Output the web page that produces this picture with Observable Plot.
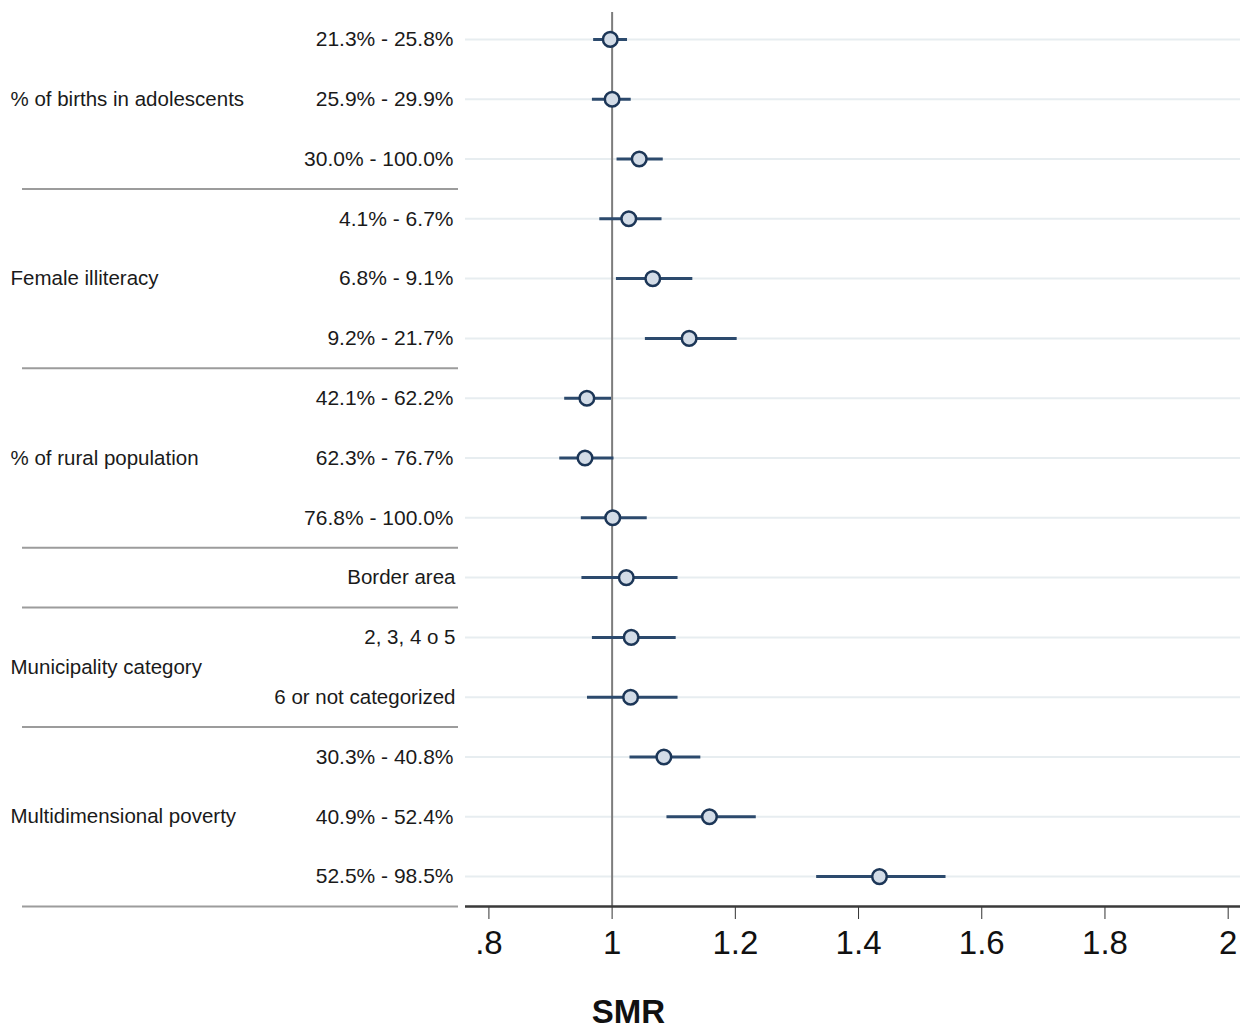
<!DOCTYPE html>
<html>
<head>
<meta charset="utf-8">
<script src="https://cdn.jsdelivr.net/npm/d3@7"></script>
<script src="https://cdn.jsdelivr.net/npm/@observablehq/plot@0.6"></script>
<style>
  body { margin: 0; background: #fff; }
  #chart svg { display: block; }
</style>
</head>
<body>
<div id="chart"></div>
<script>
// ---- data ----
const groupNames = ["% of births in adolescents", "Female illiteracy", "% of rural population", "", "Municipality category", "Multidimensional poverty"];
const groupSizes = [3, 3, 3, 1, 2, 3];
const categories = [
  "21.3% - 25.8%", "25.9% - 29.9%", "30.0% - 100.0%",
  "4.1% - 6.7%", "6.8% - 9.1%", "9.2% - 21.7%",
  "42.1% - 62.2%", "62.3% - 76.7%", "76.8% - 100.0%",
  "Border area",
  "2, 3, 4 o 5", "6 or not categorized",
  "30.3% - 40.8%", "40.9% - 52.4%", "52.5% - 98.5%"
];
const smr   = [0.997, 1.000, 1.044, 1.027, 1.066, 1.125, 0.959, 0.956, 1.001, 1.023, 1.031, 1.030, 1.084, 1.158, 1.434];
const lower = [0.970, 0.968, 1.008, 0.980, 1.007, 1.054, 0.923, 0.915, 0.950, 0.951, 0.968, 0.960, 1.029, 1.089, 1.332];
const upper = [1.025, 1.031, 1.083, 1.081, 1.131, 1.203, 0.999, 1.003, 1.057, 1.107, 1.104, 1.107, 1.144, 1.234, 1.542];
const xTicks = [0.8, 1, 1.2, 1.4, 1.6, 1.8, 2];
const xTickLabels = [".8", "1", "1.2", "1.4", "1.6", "1.8", "2"];

// ---- derived tables ----
const rows = categories.map((c, i) => ({i, category: c, smr: smr[i], lo: lower[i], hi: upper[i], pct: /%/.test(c)}));
const groupRows = [];
const dividers = [];
let start = 0;
groupNames.forEach((g, k) => {
  const end = start + groupSizes[k] - 1;
  groupRows.push({name: g, mid: (start + end) / 2});
  dividers.push(end + 0.5);
  start = end + 1;
});
const n = categories.length;

const W = 1240, H = 1029, ML = 465, MR = 0, MT = 9, MB = 123;
const frameCenterX = ML + (W - ML - MR) / 2;
const FONT = "'Liberation Sans', Arial, Helvetica, sans-serif";

const chart = Plot.plot({
  width: W,
  height: H,
  marginLeft: ML,
  marginRight: MR,
  marginTop: MT,
  marginBottom: MB,
  style: {fontFamily: FONT, color: "#1a1a1a", background: "#fff"},
  x: {domain: [0.762, 2.02], axis: null},
  y: {domain: [-0.5, n - 0.5], range: [MT, H - MB], axis: null},
  marks: [
    // light row gridlines
    Plot.ruleY(rows, {y: "i", stroke: "#e7edf0", strokeWidth: 2}),
    // reference line at SMR = 1
    Plot.ruleX([1], {stroke: "#7d7d7d", strokeWidth: 2, insetTop: 3}),
    // group dividers in the label area
    Plot.ruleY(dividers, {y: d => d, insetLeft: -(ML - 22), insetRight: (W - 458), stroke: "#9c9c9c", strokeWidth: 2}),
    // confidence intervals
    Plot.ruleY(rows, {y: "i", x1: "lo", x2: "hi", stroke: "#2c4a6d", strokeWidth: 3}),
    // point estimates
    Plot.dot(rows, {x: "smr", y: "i", r: 7.3, fill: "#d3dce7", stroke: "#1c3657", strokeWidth: 2.5}),
    // category labels (percent ranges)
    Plot.text(rows, {
      filter: d => d.pct, y: "i", text: "category", frameAnchor: "left", dx: -12, textAnchor: "end",
      fontSize: 21, fill: "#1a1a1a"
    }),
    // category labels (words)
    Plot.text(rows, {
      filter: d => !d.pct, y: "i", text: "category", frameAnchor: "left", dx: -10, textAnchor: "end",
      fontSize: 20.5, fill: "#1a1a1a"
    }),
    // group labels
    Plot.text(groupRows, {y: "mid", text: "name", frameAnchor: "left", dx: -(ML - 10), textAnchor: "start", fontSize: 20.5, fill: "#1a1a1a"}),
    // x axis
    Plot.axisX(xTicks, {
      tickFormat: d => xTickLabels[xTicks.indexOf(d)],
      tickSize: 13, tickPadding: 11, fontSize: 33, stroke: "#333", fill: "#111", label: null
    }),
    Plot.ruleY([n - 0.5], {stroke: "#3a3a3a", strokeWidth: 2.5}),
    // axis title
    Plot.text(["SMR"], {frameAnchor: "bottom", dx: 628 - frameCenterX, dy: 116, text: d => d, fontSize: 33, fontWeight: "bold", fill: "#111"})
  ]
});
document.getElementById("chart").appendChild(chart);
</script>
</body>
</html>
